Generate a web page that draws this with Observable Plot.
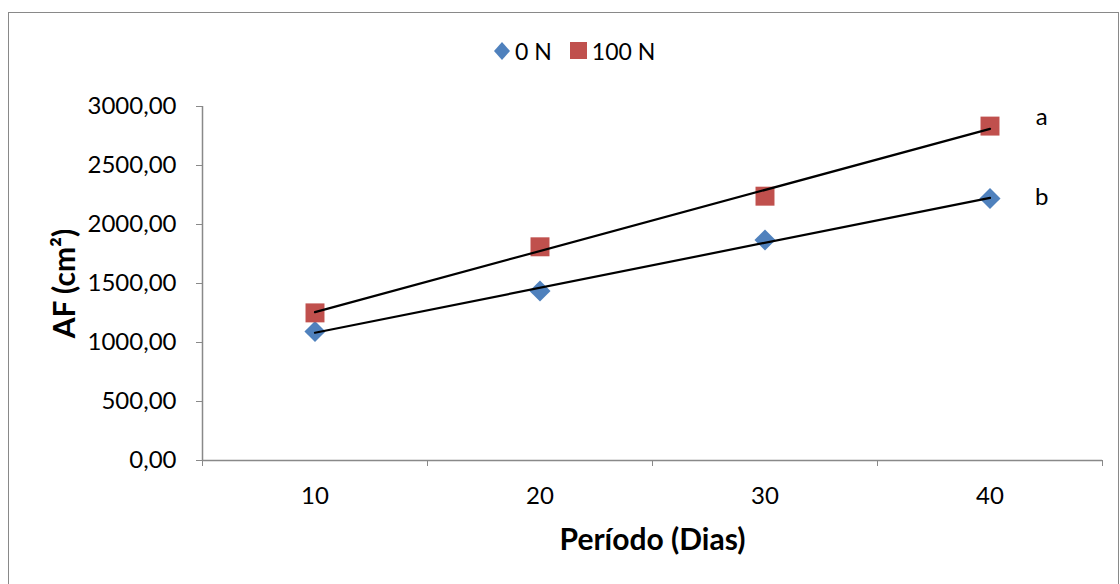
<!DOCTYPE html>
<html><head><meta charset="utf-8">
<script src="https://cdn.jsdelivr.net/npm/d3@7"></script>
<script src="https://cdn.jsdelivr.net/npm/@observablehq/plot@0.6"></script>
<style>
body{margin:0;background:#fff;}
#wrap{position:relative;width:1120px;height:584px;overflow:hidden;font-family:Lato,"Open Sans",sans-serif;}
#frame{position:absolute;left:8px;top:12px;width:1111px;height:640px;border:1.5px solid #898989;box-sizing:border-box;}
#chart{position:absolute;left:0;top:0;}
#legend{position:absolute;top:36px;left:493px;height:30px;display:flex;align-items:center;font-size:23px;color:#000;}
#legend svg{display:block;}
#legend span{margin-left:4px;margin-right:18px;}
</style></head>
<body>
<div id="wrap">
  <div id="frame"></div>
  <div id="chart"></div>
  <div id="legend"></div>
</div>
<script>
const days = [10, 20, 30, 40];
const n0 = [1093, 1437, 1868, 2220];
const n100 = [1251, 1811, 2240, 2834];
const seriesNames = ["0 N", "100 N"];
const seriesColors = ["#4F81BD", "#C0504D"];
const yTicks = [0, 500, 1000, 1500, 2000, 2500, 3000];
const xBounds = [5, 15, 25, 35, 45];
const sigLetters = ["a", "b"];
const sigY = [2907, 2231];
const sigX = 42.3;

const d0 = days.map((d, i) => ({day: d, af: n0[i]}));
const d100 = days.map((d, i) => ({day: d, af: n100[i]}));
const sig = sigLetters.map((t, i) => ({t, x: sigX, y: sigY[i]}));
const fmt = v => d3.format(".2f")(v).replace(".", ",");
const gray = "#898989";

const plot = Plot.plot({
  width: 1120, height: 584,
  marginLeft: 202, marginRight: 18, marginTop: 106, marginBottom: 124,
  style: {fontFamily: "Lato, 'Open Sans', sans-serif", background: "transparent", overflow: "visible"},
  x: {domain: [5, 45]},
  y: {domain: [0, 3000]},
  marks: [
    Plot.axisY(yTicks, {tickSize: 6, tickPadding: 20, tickFormat: fmt, fontSize: 24, stroke: gray, fill: "black", label: null}),
    Plot.axisX(days, {tickSize: 0, tickPadding: 26, tickFormat: d => String(d), fontSize: 24, fill: "black", label: null}),
    Plot.axisX(xBounds, {tickSize: 6, tickFormat: () => "", stroke: gray, label: null}),
    Plot.ruleY([0], {stroke: gray, strokeWidth: 1.5}),
    Plot.ruleX([5], {stroke: gray, strokeWidth: 1.5}),
    Plot.dot(d0, {x: "day", y: "af", symbol: "diamond2", r: 9.5, fill: seriesColors[0]}),
    Plot.dot(d100, {x: "day", y: "af", symbol: "square", r: 10.7, fill: seriesColors[1]}),
    Plot.linearRegressionY(d0, {x: "day", y: "af", stroke: "black", strokeWidth: 2.2, ci: 0}),
    Plot.linearRegressionY(d100, {x: "day", y: "af", stroke: "black", strokeWidth: 2.2, ci: 0}),
    Plot.text(sig, {x: "x", y: "y", text: "t", fontSize: 24, fill: "black"}),
    Plot.text(["AF (cm²)"], {text: d => d, frameAnchor: "left", dx: -137, rotate: -90, textAnchor: "middle", lineAnchor: "middle", fontSize: 30, fontWeight: "bold", fill: "black"}),
    Plot.text(["Período (Dias)"], {text: d => d, frameAnchor: "bottom", dy: 80, textAnchor: "middle", lineAnchor: "middle", fontSize: 30, fontWeight: "bold", fill: "black"})
  ]
});
document.getElementById("chart").appendChild(plot);

const legend = document.getElementById("legend");
const shapes = [
  '<svg width="18" height="20" viewBox="-9 -10 18 20"><path d="M0,-9L8,0L0,9L-8,0Z" fill="' + seriesColors[0] + '"/></svg>',
  '<svg width="18" height="18" viewBox="0 0 18 18"><rect width="17" height="17" fill="' + seriesColors[1] + '"/></svg>'
];
seriesNames.forEach((n, i) => {
  legend.insertAdjacentHTML("beforeend", shapes[i] + "<span>" + n + "</span>");
});
</script>
</body></html>
